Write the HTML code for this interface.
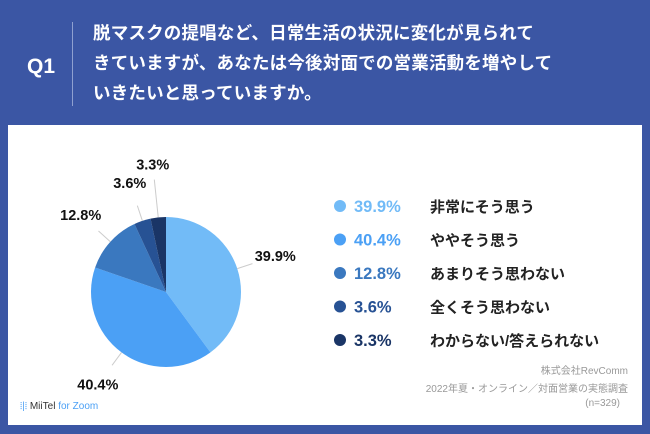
<!DOCTYPE html>
<html><head><meta charset="utf-8">
<style>
body{margin:0;width:650px;height:434px;overflow:hidden;background:#3b56a4;font-family:"Liberation Sans","Noto Sans CJK JP",sans-serif;}
#hdr{position:absolute;left:0;top:0;width:650px;height:125px;}
#q1{position:absolute;left:27px;top:55px;color:#fff;font-weight:bold;font-size:21px;}
#div{position:absolute;left:72px;top:22px;width:1px;height:84px;background:#8fa0d0;}
#qt{position:absolute;left:93px;top:18px;color:#fff;font-weight:bold;font-size:17.5px;line-height:30px;letter-spacing:0.2px;}
#panel{position:absolute;left:8px;top:125px;width:634px;height:300px;background:#fff;}
.foot{position:absolute;right:14px;color:#999;font-size:10px;text-align:right;}
#logo{position:absolute;left:12px;top:276px;font-size:10px;color:#333;}
</style></head><body>
<div id="hdr">
<div id="q1">Q1</div>
<div id="div"></div>
<div id="qt">脱マスクの提唱など、日常生活の状況に変化が見られて<br>きていますが、あなたは今後対面での営業活動を増やして<br>いきたいと思っていますか。</div>
</div>
<div id="panel">
<div class="foot" style="top:237px">株式会社RevComm</div>
<div class="foot" style="top:255px">2022年夏・オンライン／対面営業の実態調査</div>
<div class="foot" style="top:273px;right:22px">(n=329)</div>
<div id="logo"><span style="color:#4ba0f5">⦙|⦙</span> MiiTel <span style="color:#4ba0f5">for Zoom</span></div>
</div>
<svg id="chart" width="650" height="434" style="position:absolute;left:0;top:0"></svg>
<script>
const categories=["非常にそう思う","ややそう思う","あまりそう思わない","全くそう思わない","わからない/答えられない"];
const values=[39.9,40.4,12.8,3.6,3.3];
const labels=["39.9%","40.4%","12.8%","3.6%","3.3%"];
const colors=["#72bbf7","#4ba0f5","#3a78bf","#275294","#1a3566"];
const svg=document.getElementById('chart');const NS="http://www.w3.org/2000/svg";
const cx=166,cy=292,r=75;
const total=values.reduce((a,b)=>a+b,0);
function pt(a,rr){return [cx+rr*Math.sin(a),cy-rr*Math.cos(a)];}
function mk(t,at){const e=document.createElementNS(NS,t);for(const k in at)e.setAttribute(k,at[k]);svg.appendChild(e);return e;}
let acc=0;
values.forEach((v,i)=>{
 const a0=acc/total*2*Math.PI;acc+=v;const a1=acc/total*2*Math.PI;
 const p0=pt(a0,r),p1=pt(a1,r);const large=(a1-a0)>Math.PI?1:0;
 const s=mk('path',{d:`M${cx},${cy}L${p0[0]},${p0[1]}A${r},${r} 0 ${large} 1 ${p1[0]},${p1[1]}Z`,fill:colors[i]});
 
 
 const am=(a0+a1)/2;
 // stagger adjacent tiny slices at the end of the pie so labels don't collide
 const small=(v/total<0.05)&&(acc/total>0.99);
 const lineLen=small?38:16, labR=small?r+53:r+40;
 const l0=pt(am,r),l1=pt(am,r+lineLen);
 const ln=mk('line',{x1:l0[0],y1:l0[1],x2:l1[0],y2:l1[1],stroke:'#ccc','stroke-width':1});
 
 
 const lp=pt(am,labR);
 const t=mk('text',{x:lp[0],y:lp[1]+5,'text-anchor':'middle','font-size':14.5,'font-weight':'bold',fill:'#111'});
 t.textContent=labels[i];
 
 
 const ly=206+i*33.5;
 const d=mk('circle',{cx:340,cy:ly,r:6,fill:colors[i]});
 
 
 const pv=mk('text',{x:354,y:ly+6,'font-size':16.5,'font-weight':'bold',fill:colors[i]});
 pv.textContent=labels[i];
 
 
 const lc=mk('text',{x:430,y:ly+6,'font-size':15,'font-weight':'bold',fill:'#222'});
 lc.textContent=categories[i];
 
 
});
</script>
</body></html>
